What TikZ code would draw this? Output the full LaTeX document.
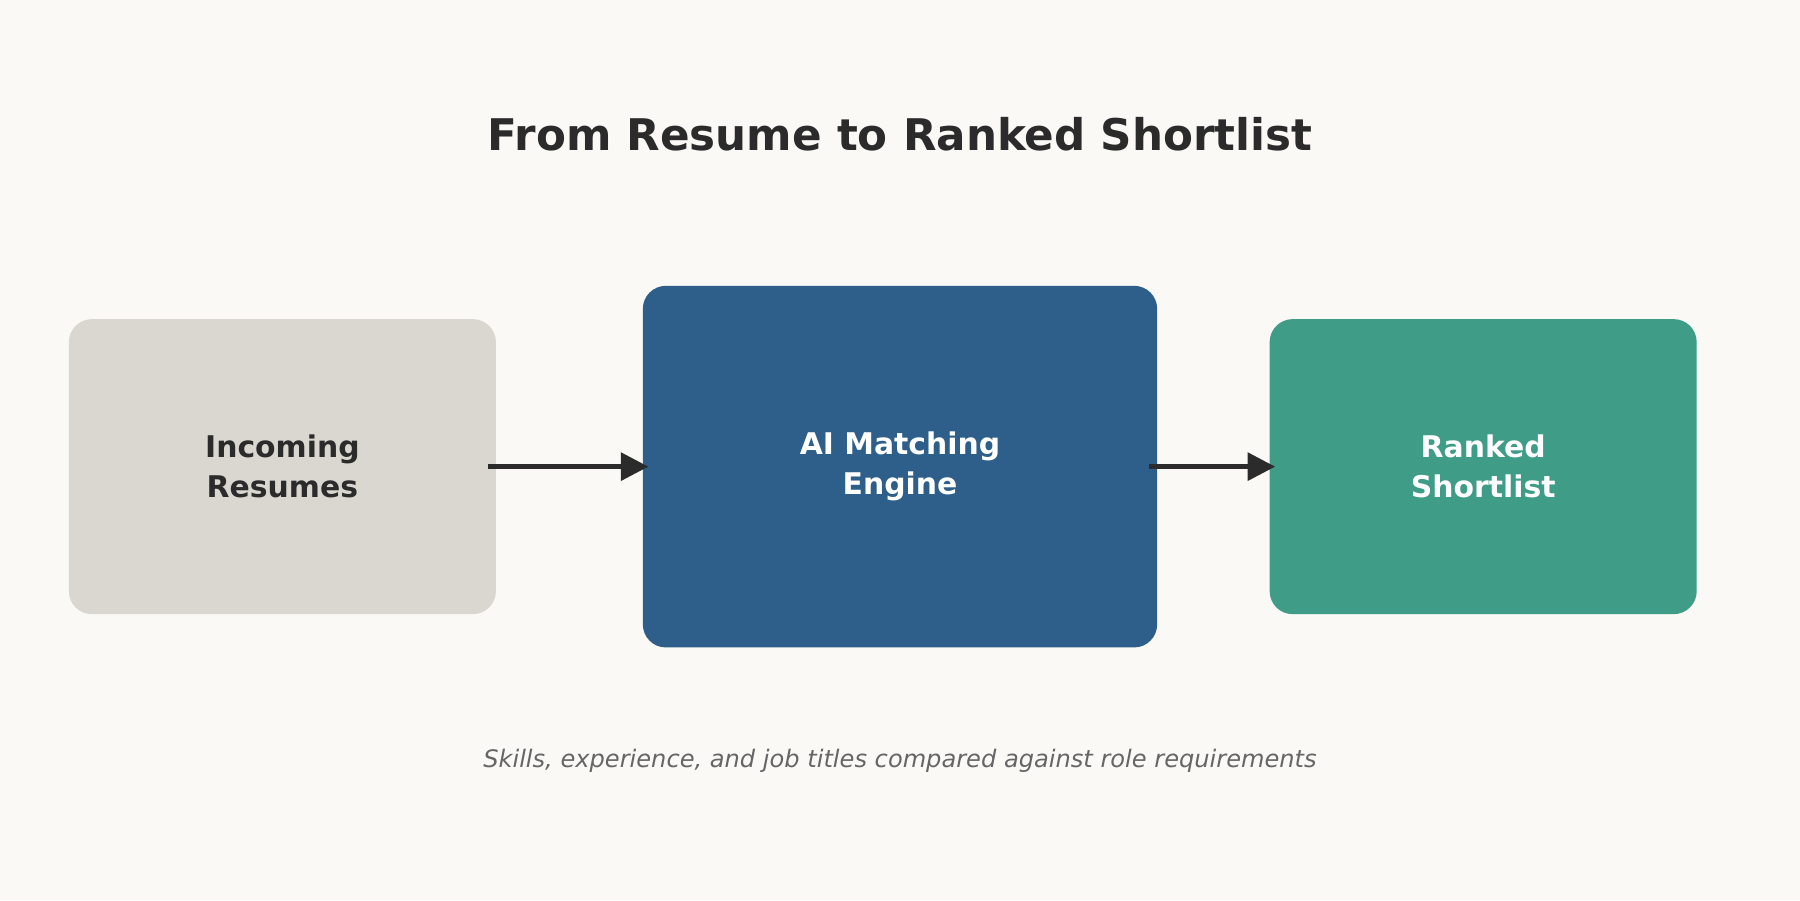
\documentclass[tikz,border=0pt]{standalone}
\usepackage{fontspec}
\setmainfont{DejaVu Sans}
\usetikzlibrary{arrows.meta}
\definecolor{bg}{HTML}{FAF9F5}
\definecolor{greybox}{HTML}{D9D7D0}
\definecolor{bluebox}{HTML}{2D5F8A}
\definecolor{greenbox}{HTML}{3F9C87}
\definecolor{ink}{HTML}{2B2B2B}
\definecolor{sub}{HTML}{666666}
\begin{document}
\begin{tikzpicture}[x=1pt,y=1pt,
  box/.style={rounded corners=20pt,draw=none,align=center,font=\bfseries\fontsize{26}{35}\selectfont,inner sep=0pt},
  arr/.style={-{Triangle[length=24pt,width=24pt]},line width=4pt,draw=ink,shorten <=-7pt,shorten >=-5pt}]
\fill[bg] (0,0) rectangle (1568,784);
\useasboundingbox (0,0) rectangle (1568,784);
\node[font=\bfseries\fontsize{38}{44}\selectfont,text=ink] (title) at (784,667) {From Resume to Ranked Shortlist};
\node[box,fill=greybox,text=ink,minimum width=372pt,minimum height=257pt] (a) at (246,377.5) {Incoming\\Resumes};
\node[box,fill=bluebox,text=white,minimum width=448pt,minimum height=315pt] (b) at (784,377.5) {AI Matching\\Engine};
\node[box,fill=greenbox,text=white,minimum width=372pt,minimum height=257pt] (c) at (1292,377.5) {Ranked\\Shortlist};
\draw[arr] (a.east) -- (b.west);
\draw[arr] (b.east) -- (c.west);
\node[font=\itshape\fontsize{21}{25}\selectfont,text=sub] (note) at (784,121) {Skills, experience, and job titles compared against role requirements};
\end{tikzpicture}
\end{document}
